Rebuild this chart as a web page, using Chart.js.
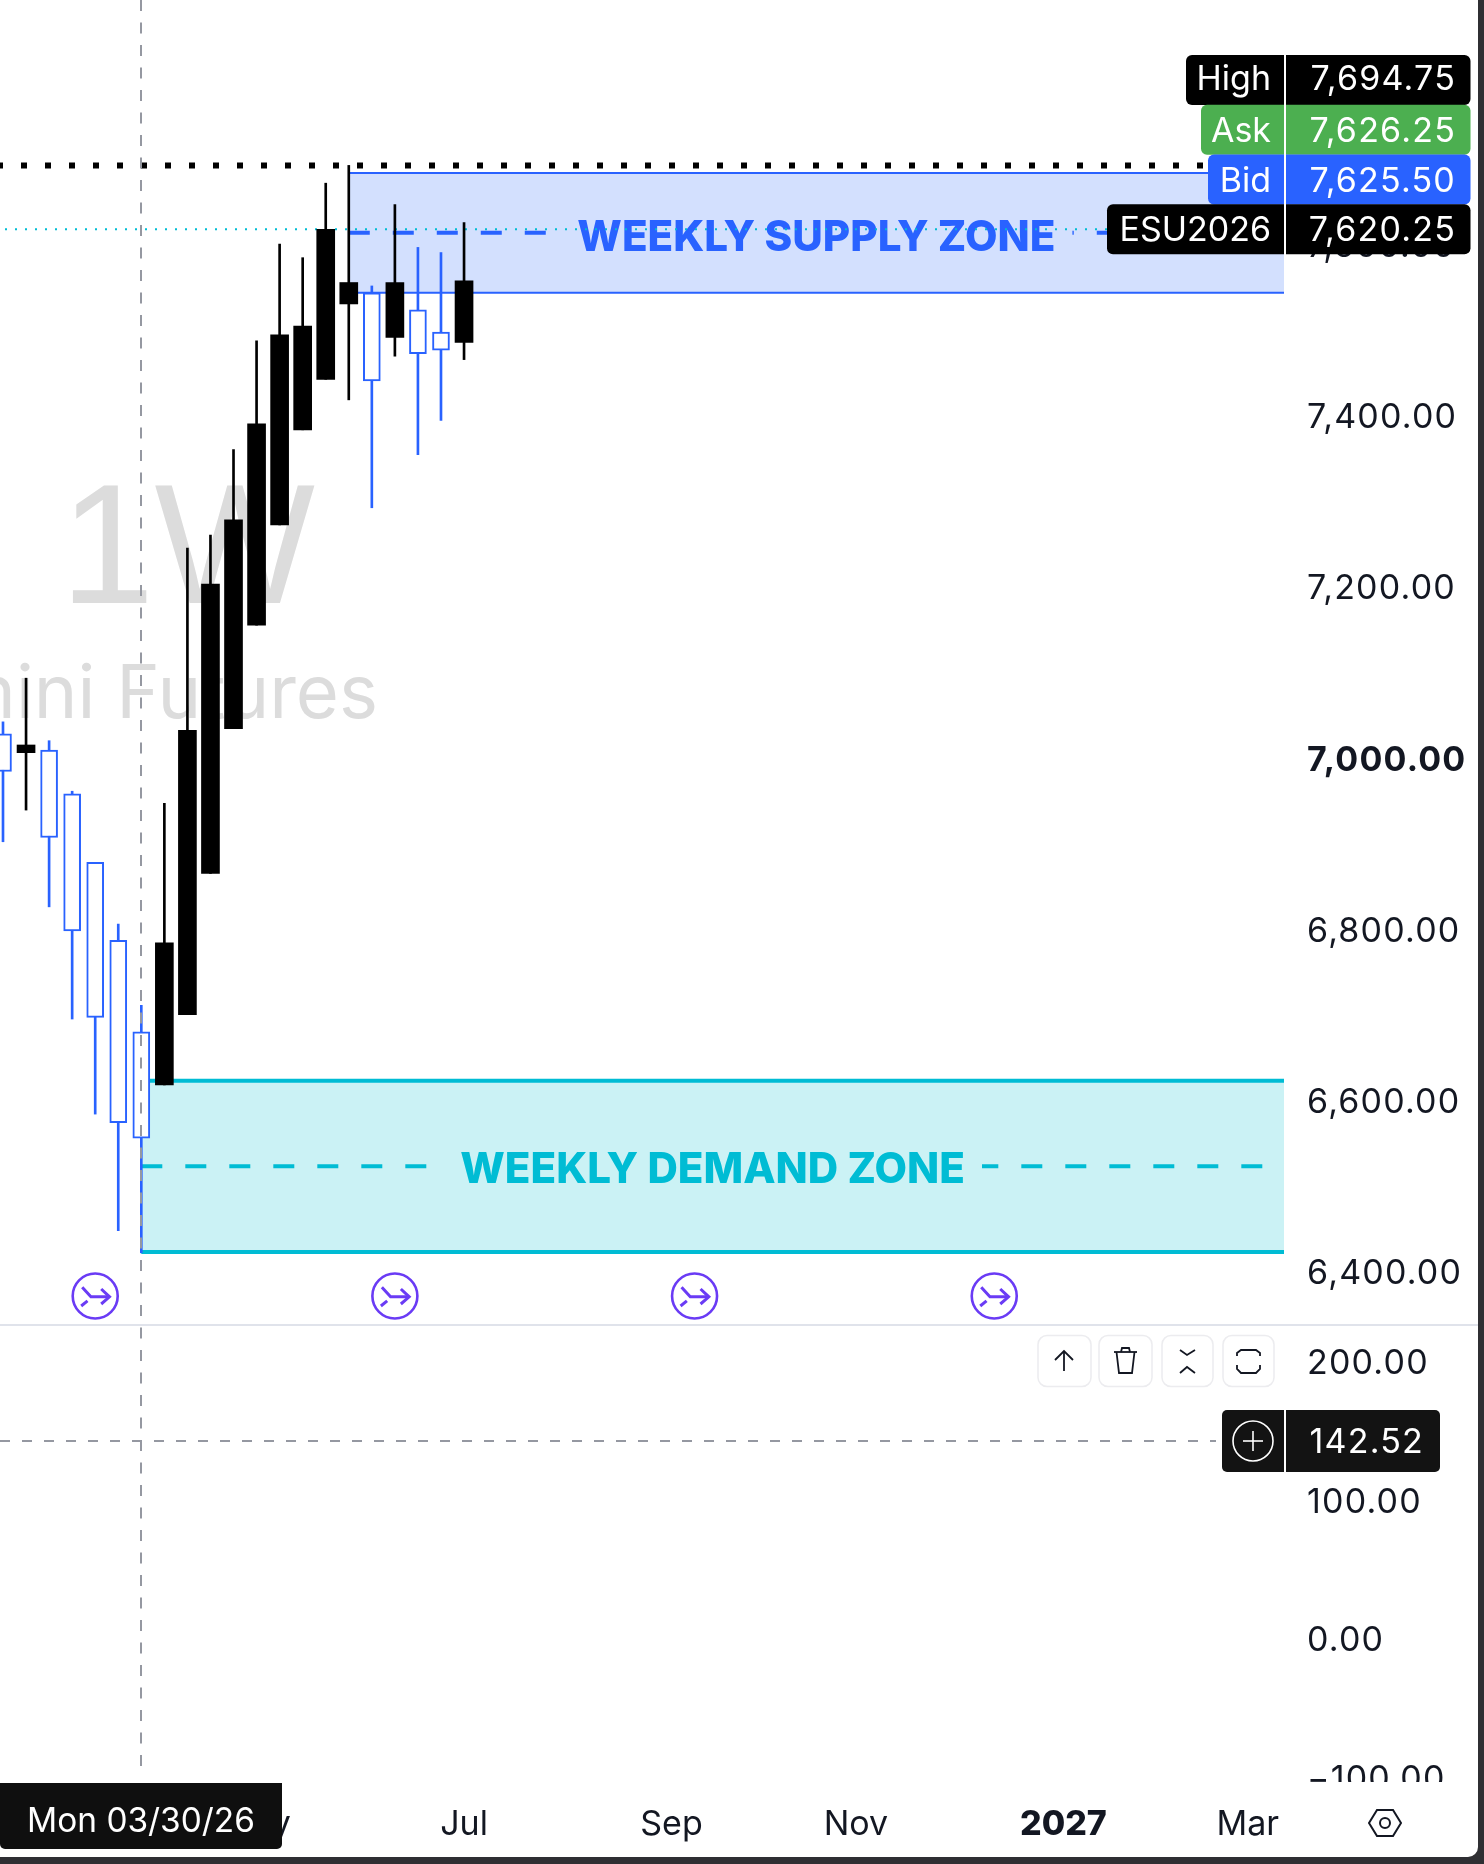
<!DOCTYPE html>
<html>
<head>
<meta charset="utf-8">
<style>html,body{margin:0;padding:0;background:#fff}canvas{display:block}</style>
<script src="https://cdn.jsdelivr.net/npm/chart.js@4"></script>
</head>
<body>
<canvas id="c" width="1484" height="1864" style="width:1484px;height:1864px"></canvas>
<script>
const categories = ['02/16/26','02/23/26','03/02/26','03/09/26','03/16/26','03/23/26','03/30/26','04/06/26','04/13/26','04/20/26','04/27/26','05/04/26','05/11/26','05/18/26','05/25/26','06/01/26','06/08/26','06/15/26','06/22/26','06/29/26','07/06/26'];
const opens  = [7031,7009,7012,6961,6881,6790,6683,6621,6703,6868,7037,7158,7275,7386,7445,7533,7546,7494,7526,7500,7488];
const highs  = [7045,7096,7023,6964,6881,6809,6714,6950,7248,7263,7363,7490,7603,7587,7674,7694.75,7554,7649,7599,7593,7628];
const lows   = [6905,6942,6829,6698,6587,6451,6425,6621,6703,6868,7037,7158,7275,7386,7445,7421,7295,7472,7357,7397,7468];
const closes = [6987,7018,6910,6801,6700,6577,6559,6787,7035,7206,7281,7393,7497,7507,7620,7558,7443,7558,7475,7479,7560];

const priceTicks = [7600,7400,7200,7000,6800,6600,6400];
const paneTicks = [200,100,0,-100];
const timeTicks = [[11,'May'],[20,'Jul'],[29,'Sep'],[37,'Nov'],[46,'2027'],[54,'Mar']];
const priceRange = [5807.1,7887.9];
const paneRange = [-103.2,1183.4];
const weekRange = [-0.13,55.57];

const supplyZone = {start:15,top:7686,bottom:7546,label:'WEEKLY SUPPLY ZONE'};
const demandZone = {start:6,top:6626,bottom:6426,label:'WEEKLY DEMAND ZONE'};
const highPrice = 7694.75, lastPrice = 7620.25, crosshairWeek = 6, crosshairPane = 142.52;
const rolloverWeeks = [4,17,30,43];
const priceTags = [['High','7,694.75','#000000',1186],['Ask','7,626.25','#4caf50',1201],['Bid','7,625.50','#2962ff',1208],['ESU2026','7,620.25','#000000',1107]];

const UI='Inter, sans-serif', BLUE='#2962ff', TEAL='#00bcd4', INK='#131722', GREY='#9598a1';
const plotR=1284, NUM_SPACING='1.2px';
const idx=categories.map((_,i)=>i);
const up=i=>closes[i]>=opens[i];

function line(c,pts,w,col,dash){c.save();c.beginPath();pts.forEach((p,i)=>i?c.lineTo(p[0],p[1]):c.moveTo(p[0],p[1]));c.lineWidth=w;c.strokeStyle=col;c.setLineDash(dash||[]);c.stroke();c.restore();}
function rr(c,x,y,w,h,r){c.beginPath();c.roundRect(x,y,w,h,r);}
function txt(c,s,x,y,font,col,al,sp){c.font=font;c.fillStyle=col;c.textAlign=al||'left';c.textBaseline='middle';c.letterSpacing=sp||'0px';c.fillText(s,x,y);c.letterSpacing='0px';}

function drawZone(c,ch,z,col,fill,bw,dw,dy){
  const X=ch.scales.x,Y=ch.scales.y;
  const x0=X.getPixelForValue(z.start),yt=Y.getPixelForValue(z.top),yb=Y.getPixelForValue(z.bottom),ym=(yt+yb)/2;
  c.fillStyle=fill;c.fillRect(x0,yt,plotR-x0,yb-yt);
  line(c,[[x0,yt],[plotR,yt]],bw,col);line(c,[[x0,yb],[plotR,yb]],bw,col);
  const cx=(x0+plotR)/2,font='800 42.1px '+UI;
  c.font=font;const w=c.measureText(z.label).width;
  c.save();c.beginPath();c.rect(x0,ym-10,cx-w/2-14-x0,20);c.rect(cx+w/2+17,ym-10,plotR-cx-w/2-17,20);c.clip();
  line(c,[[x0,ym],[plotR,ym]],dw,col,[21,23]);
  c.restore();
  txt(c,z.label,cx,ym+dy,font,col,'center');
}

const overlay={id:'overlay',
 afterLayout(ch){
  const Y=ch.scales.y,P=ch.scales.y2;
  P.left=Y.left;P.right=Y.right;
  [[Y,0],[P,2]].forEach(([s,d])=>{const f=s.drawLabels;s.drawLabels=function(a){const c=ch.ctx;c.save();c.translate(0,d);c.letterSpacing=NUM_SPACING;f.call(s,a);c.letterSpacing='0px';c.restore();};});
 },
 beforeDatasetsDraw(ch){
  const c=ch.ctx,X=ch.scales.x,Y=ch.scales.y;
  txt(c,', 1W',315,556,'170px "Liberation Sans"','#dcdcdc','right');
  txt(c,'E-mini Futures',378,696,'74px '+UI,'#dcdcdc','right');
  drawZone(c,ch,supplyZone,BLUE,'#d3e0fe',2,4,5);
  drawZone(c,ch,demandZone,TEAL,'#cbf2f5',4,4,4);
  const yh=Y.getPixelForValue(highPrice);
  line(c,[[-3,yh],[1210,yh]],6,'#000',[6,18]);
  const yl=Y.getPixelForValue(lastPrice);
  line(c,[[5,yl],[plotR,yl]],2,TEAL,[2,8]);
 },
 afterDatasetsDraw(ch){
  const c=ch.ctx,X=ch.scales.x,P=ch.scales.y2;
  const cx=Math.round(X.getPixelForValue(crosshairWeek)),cy=Math.floor(P.getPixelForValue(crosshairPane));
  line(c,[[cx,0],[cx,1777]],2,GREY,[11,11.5]);
  line(c,[[0,cy],[1216,cy]],2,GREY,[10,12]);
  line(c,[[0,1325],[1478,1325]],2,'#e0e3eb');
  rolloverWeeks.forEach(w=>{
    const x=X.getPixelForValue(w),y=1296,col='#6a3bf5';
    c.beginPath();c.arc(x,y,22.5,0,Math.PI*2);c.lineWidth=2.6;c.strokeStyle=col;c.stroke();
    const L=(a)=>line(c,a.map(p=>[x+p[0],y+p[1]]),3,col);
    L([[-13,-8.7],[-4.3,.8],[13,.8]]);L([[6,-7],[14.3,.8],[6,8]]);L([[-14,10],[-7.7,4.8]]);
  });
  [[1038,53],[1099,53],[1162,51],[1223,51]].forEach(b=>{rr(c,b[0],1335.5,b[1],51,9);c.fillStyle='#fff';c.fill();c.lineWidth=1.5;c.strokeStyle='#ececef';c.stroke();});
  const K='#131722';
  line(c,[[1064,1351],[1064,1371]],1.8,K);line(c,[[1055,1360],[1064,1351],[1073,1360]],1.8,K);
  line(c,[[1114,1352],[1137,1352]],1.8,K);line(c,[[1116.5,1352],[1119,1373],[1132,1373],[1134.5,1352]],1.8,K);
  line(c,[[1121,1352],[1122,1348],[1129,1348],[1130,1352]],1.8,K);
  line(c,[[1180,1350],[1187,1355],[1195,1350]],1.8,K);line(c,[[1180,1373],[1187,1367],[1195,1373]],1.8,K);
  line(c,[[1237,1356],[1237,1353],[1241,1350],[1256,1350],[1260,1353],[1260,1356]],1.8,K);
  line(c,[[1237,1365],[1237,1369],[1241,1373],[1256,1373],[1260,1369],[1260,1365]],1.8,K);
  c.fillStyle='#fff';c.fillRect(1286,1782,198,82);
  rr(c,1222,1410,218,62,5);c.fillStyle='#131313';c.fill();
  c.fillStyle='#fff';c.fillRect(1284,1410,2,62);
  c.beginPath();c.arc(1253,1441,20,0,Math.PI*2);c.lineWidth=1.6;c.strokeStyle='#fff';c.stroke();
  line(c,[[1243,1441],[1263,1441]],1.6,'#fff');line(c,[[1253,1431],[1253,1451]],1.6,'#fff');
  txt(c,crosshairPane.toFixed(2),1424,1443,'34px '+UI,'#fff','right',NUM_SPACING);
  priceTags.forEach((t,i)=>{
    const y=55+i*49.75,h=50,d=i?2:0;
    rr(c,t[3],y,1284-t[3],h,[6,0,0,6]);c.fillStyle=t[2];c.fill();
    rr(c,1286,y,1470.5-1286,h,[0,6,6,0]);c.fill();
    txt(c,t[0],1271,y+h/2+d,'34px '+UI,'#fff','right');
    txt(c,t[1],1456,y+h/2+d,'34px '+UI,'#fff','right',NUM_SPACING);
  });
  rr(c,0,1783,282,66,[0,0,5,5]);c.fillStyle='#0f0f0f';c.fill();
  txt(c,'Mon '+categories[crosshairWeek],141,1822,'33.4px '+UI,'#fff','center');
  c.beginPath();[[-16,0],[-8,-13],[8,-13],[16,0],[8,13],[-8,13]].forEach((p,i)=>i?c.lineTo(1385+p[0],1823+p[1]):c.moveTo(1385+p[0],1823+p[1]));c.closePath();c.lineWidth=2;c.strokeStyle=K;c.stroke();
  c.beginPath();c.arc(1385,1823,5,0,Math.PI*2);c.stroke();
  c.fillStyle='#2f2f33';
  c.beginPath();c.rect(0,0,1484,1864);c.roundRect(-10,-10,1488,1867,[0,0,10,0]);c.fill('evenodd');
 }
};
const noPad=s=>{s.paddingTop=s.paddingBottom=s.paddingLeft=s.paddingRight=0;};

new Chart(document.getElementById('c'),{
 type:'bar',
 data:{datasets:[
  {label:'Wick',order:3,barThickness:2,
   data:idx.map(i=>({x:i,y:[lows[i],highs[i]]})),
   backgroundColor:idx.map(i=>up(i)?'#000000':BLUE)},
  {label:'Down',order:2,barThickness:17,
   data:idx.filter(i=>!up(i)).map(i=>({x:i,y:[closes[i],opens[i]]})),
   backgroundColor:'#ffffff',borderColor:BLUE,borderWidth:2,borderSkipped:false},
  {label:'Up',order:1,barThickness:18,
   data:idx.filter(i=>up(i)).map(i=>({x:i,y:[opens[i],closes[i]]})),
   backgroundColor:'#000000'}
 ]},
 options:{
  responsive:false,animation:false,devicePixelRatio:1,events:[],
  layout:{padding:0},
  plugins:{legend:{display:false},tooltip:{enabled:false},title:{display:false}},
  datasets:{bar:{grouped:false}},
  scales:{
   x:{type:'linear',min:weekRange[0],max:weekRange[1],offset:false,
      grid:{display:false},border:{display:false},
      afterBuildTicks:s=>{s.ticks=timeTicks.map(t=>({value:t[0]}));},
      afterFit:s=>{s.height=82;noPad(s);},
      ticks:{autoSkip:false,maxRotation:0,padding:14,color:INK,
        callback:v=>(timeTicks.find(t=>t[0]===v)||[0,''])[1],
        font:ctx=>({family:'Inter',size:34,weight:ctx.tick&&ctx.tick.value===46?'800':'400'})}},
   y:{type:'linear',position:'right',min:priceRange[0],max:priceRange[1],weight:2,
      grid:{display:false},border:{display:false},
      afterBuildTicks:s=>{s.ticks=priceTicks.map(v=>({value:v}));},
      afterFit:s=>{s.width=200;noPad(s);},
      ticks:{autoSkip:false,padding:15,color:INK,crossAlign:'near',
        callback:v=>v.toLocaleString('en-US',{minimumFractionDigits:2}),
        font:ctx=>({family:'Inter',size:34,weight:ctx.tick&&ctx.tick.value===7000?'700':'400'})}},
   y2:{type:'linear',position:'right',min:paneRange[0],max:paneRange[1],weight:1,
      grid:{display:false},border:{display:false},
      afterBuildTicks:s=>{s.ticks=paneTicks.map(v=>({value:v}));},
      afterFit:s=>{s.width=0;noPad(s);},
      ticks:{autoSkip:false,padding:15,color:INK,crossAlign:'near',
        callback:v=>(v<0?'\u2212':'')+Math.abs(v).toFixed(2),
        font:{family:'Inter',size:34}}}
  }
 },
 plugins:[overlay]
});
</script>
</body>
</html>
